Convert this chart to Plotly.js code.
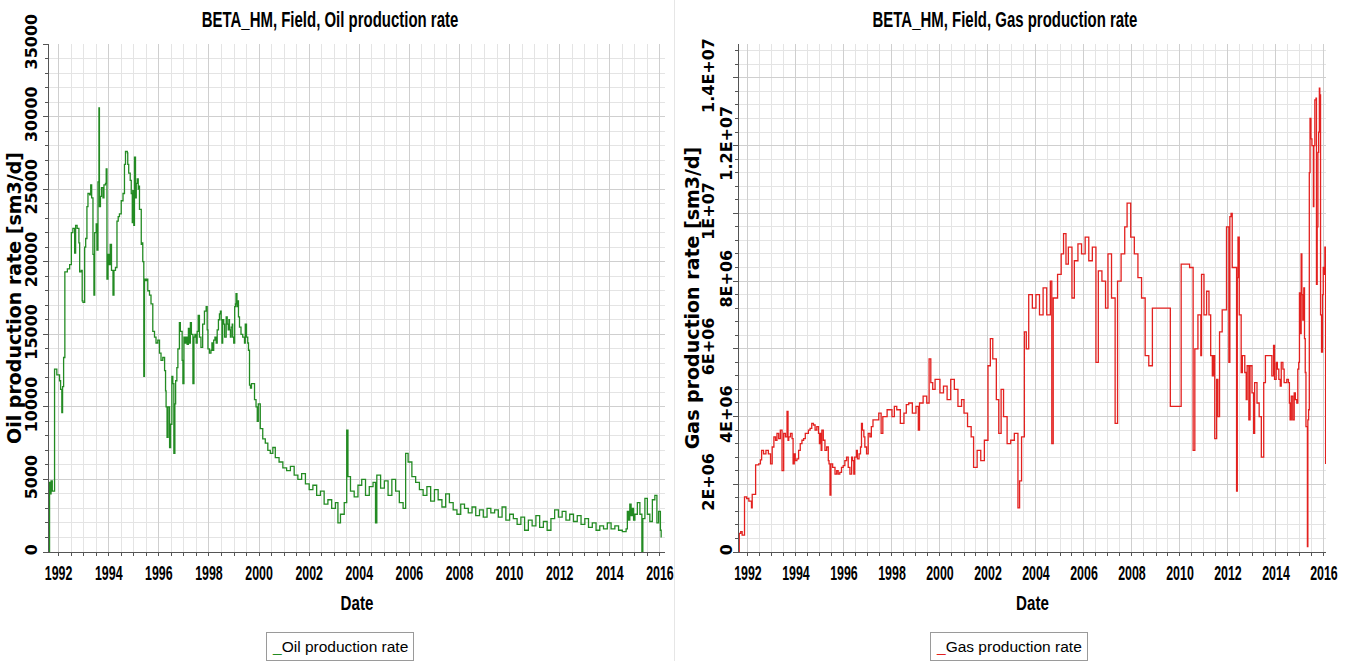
<!DOCTYPE html>
<html>
<head>
<meta charset="utf-8">
<script src="https://cdn.plot.ly/plotly-3.0.1.min.js"></script>
<style>
  html, body { margin: 0; padding: 0; background: #fff; }
  #oil { position: absolute; left: 0; top: 0; width: 690px; height: 661px; z-index: 1; }
  #gas { position: absolute; left: 675px; top: 0; width: 680px; height: 661px; z-index: 2; }
  #divider { position: absolute; left: 674px; top: 0; width: 1px; height: 661px; background: #e6e6e6; z-index: 3; }
</style>
</head>
<body>
<div id="oil"></div>
<div id="divider"></div>
<div id="gas"></div>
<script>
// Field oil rate, sm3/d, stepped; dates as decimal years
const oilYears = [
  1991.62, 1991.64, 1991.68, 1991.70, 1991.75, 1991.84, 1991.93, 1992.04, 1992.08, 1992.13,
  1992.16, 1992.20, 1992.25, 1992.35, 1992.44, 1992.51, 1992.57, 1992.64, 1992.68, 1992.74,
  1992.81, 1992.84, 1992.90, 1992.94, 1992.97, 1993.04, 1993.08, 1993.13, 1993.17, 1993.24,
  1993.28, 1993.32, 1993.37, 1993.41, 1993.44, 1993.50, 1993.53, 1993.57, 1993.61, 1993.63,
  1993.67, 1993.71, 1993.77, 1993.81, 1993.87, 1993.90, 1993.93, 1993.97, 1994.01, 1994.06,
  1994.11, 1994.17, 1994.21, 1994.27, 1994.33, 1994.38, 1994.43, 1994.50, 1994.57, 1994.63,
  1994.67, 1994.74, 1994.76, 1994.80, 1994.86, 1994.90, 1994.94, 1994.96, 1995.00, 1995.03,
  1995.07, 1995.10, 1995.14, 1995.18, 1995.20, 1995.23, 1995.30, 1995.34, 1995.36, 1995.40,
  1995.43, 1995.47, 1995.52, 1995.56, 1995.63, 1995.69, 1995.76, 1995.83, 1995.89, 1995.96,
  1996.03, 1996.09, 1996.16, 1996.23, 1996.27, 1996.29, 1996.33, 1996.37, 1996.43, 1996.47,
  1996.52, 1996.56, 1996.60, 1996.64, 1996.67, 1996.72, 1996.76, 1996.82, 1996.86, 1996.93,
  1996.96, 1997.00, 1997.04, 1997.09, 1997.13, 1997.18, 1997.22, 1997.26, 1997.30, 1997.36,
  1997.40, 1997.44, 1997.49, 1997.53, 1997.57, 1997.62, 1997.68, 1997.75, 1997.82, 1997.89,
  1997.93, 1997.96, 1998.02, 1998.08, 1998.12, 1998.15, 1998.19, 1998.24, 1998.29, 1998.33,
  1998.38, 1998.42, 1998.46, 1998.49, 1998.52, 1998.55, 1998.59, 1998.63, 1998.69, 1998.73,
  1998.77, 1998.80, 1998.82, 1998.86, 1998.89, 1998.93, 1998.95, 1998.99, 1999.03, 1999.06,
  1999.08, 1999.12, 1999.15, 1999.18, 1999.22, 1999.28, 1999.35, 1999.42, 1999.45, 1999.50,
  1999.55, 1999.58, 1999.62, 1999.66, 1999.70, 1999.75, 1999.82, 1999.88, 1999.93, 1999.97,
  2000.05, 2000.15, 2000.25, 2000.35, 2000.45, 2000.55, 2000.65, 2000.80, 2000.95, 2001.10,
  2001.25, 2001.40, 2001.55, 2001.70, 2001.85, 2002.00, 2002.15, 2002.30, 2002.45, 2002.60,
  2002.75, 2002.90, 2003.05, 2003.15, 2003.25, 2003.40, 2003.50, 2003.55, 2003.65, 2003.80,
  2003.95, 2004.10, 2004.25, 2004.40, 2004.55, 2004.65, 2004.70, 2004.85, 2005.00, 2005.15,
  2005.30, 2005.45, 2005.60, 2005.75, 2005.85, 2005.95, 2006.10, 2006.25, 2006.40, 2006.55,
  2006.70, 2006.85, 2007.00, 2007.15, 2007.30, 2007.45, 2007.60, 2007.75, 2007.90, 2008.05,
  2008.20, 2008.35, 2008.50, 2008.65, 2008.80, 2008.95, 2009.10, 2009.25, 2009.40, 2009.55,
  2009.70, 2009.85, 2010.00, 2010.15, 2010.30, 2010.45, 2010.60, 2010.75, 2010.90, 2011.05,
  2011.20, 2011.35, 2011.50, 2011.65, 2011.80, 2011.95, 2012.10, 2012.25, 2012.40, 2012.55,
  2012.70, 2012.85, 2013.00, 2013.15, 2013.30, 2013.45, 2013.60, 2013.75, 2013.90, 2014.05,
  2014.20, 2014.35, 2014.50, 2014.65, 2014.70, 2014.75, 2014.80, 2014.85, 2014.90, 2014.95,
  2015.00, 2015.10, 2015.20, 2015.28, 2015.32, 2015.40, 2015.50, 2015.60, 2015.70, 2015.80,
  2015.88, 2015.95, 2016.02, 2016.05
];
const oilRate = [
  0, 4800, 4000, 4900, 4200, 12600, 12200, 11800, 11200, 9600,
  11400, 13400, 19300, 19500, 19800, 22000, 22300, 20600, 22500, 22300,
  21300, 19300, 19400, 17300, 17200, 21000, 21600, 23800, 24700, 24600,
  25300, 24400, 20500, 17700, 22000, 22600, 20800, 25500, 30600, 23800,
  24500, 25100, 24400, 25300, 25400, 26400, 18800, 20500, 19800, 21200,
  19400, 17700, 19400, 19600, 22800, 23100, 23300, 24200, 24700, 26700,
  27600, 27500, 26700, 26100, 25600, 24700, 22700, 24900, 22500, 27200,
  24400, 25400, 25700, 25000, 25200, 23600, 21200, 21300, 20000, 12100,
  18800, 18700, 18800, 18000, 17700, 17100, 15200, 14800, 14400, 14600,
  13700, 13200, 13400, 12500, 11100, 10000, 7900, 10000, 7200, 8800,
  12100, 11600, 6800, 10200, 11800, 12700, 14000, 15800, 15200, 13200,
  11600, 14800, 14400, 14800, 14300, 15400, 14400, 15800, 15000, 11600,
  14800, 15000, 14400, 15200, 16300, 14800, 14100, 15700, 16600, 16900,
  15300, 14000, 13700, 13900, 14400, 13900, 14600, 14800, 14400, 15300,
  16000, 16400, 16600, 16000, 14400, 16000, 15700, 14800, 16200, 15700,
  15300, 16000, 15300, 14800, 15500, 15700, 14800, 14400, 16900, 17100,
  17800, 16900, 17300, 16200, 15500, 15000, 14800, 14400, 15700, 14800,
  14400, 13900, 11500, 11300, 11600, 11600, 10500, 10000, 9000, 10200,
  8500, 7800, 7500, 7000, 6800, 7200, 6500, 6200, 5800, 5600,
  5900, 5300, 5000, 5400, 4700, 4300, 4600, 3900, 4200, 3300,
  3600, 3000, 3400, 2000, 2600, 3400, 8400, 5200, 4200, 3800,
  4600, 5000, 3900, 4500, 4800, 2000, 5300, 4400, 4900, 3900,
  5000, 4200, 3400, 3000, 6800, 6200, 5200, 4800, 4300, 3900,
  4500, 3500, 4300, 3600, 3100, 4000, 3400, 2900, 2600, 3300,
  3000, 2700, 3100, 2500, 2900, 2400, 3000, 2700, 2900, 2400,
  3100, 2200, 2600, 2300, 1900, 2400, 1500, 2200, 1800, 2500,
  1700, 2100, 1500, 2300, 2900, 2400, 2800, 2200, 2600, 2100,
  2500, 1900, 2300, 1700, 2000, 1500, 1800, 1600, 2000, 1600,
  1800, 1500, 1400, 1600, 2800, 2200, 3300, 2500, 3000, 2200,
  2600, 3400, 2600, 0, 2300, 3700, 2600, 2100, 3600, 3900,
  2000, 2800, 1500, 1000
];

// Field gas rate, million sm3/d, stepped; dates as decimal years
const gasYears = [
  1991.62, 1991.64, 1991.70, 1991.76, 1991.86, 1991.95, 1992.04, 1992.15, 1992.18, 1992.32,
  1992.45, 1992.52, 1992.57, 1992.65, 1992.75, 1992.85, 1992.94, 1993.01, 1993.08, 1993.15,
  1993.21, 1993.28, 1993.35, 1993.42, 1993.49, 1993.56, 1993.63, 1993.67, 1993.70, 1993.77,
  1993.84, 1993.88, 1993.93, 1993.97, 1994.04, 1994.11, 1994.18, 1994.25, 1994.32, 1994.39,
  1994.45, 1994.52, 1994.59, 1994.66, 1994.73, 1994.80, 1994.87, 1994.94, 1994.98, 1995.01,
  1995.05, 1995.08, 1995.14, 1995.21, 1995.28, 1995.35, 1995.38, 1995.42, 1995.46, 1995.53,
  1995.63, 1995.70, 1995.76, 1995.83, 1995.90, 1995.97, 1996.04, 1996.11, 1996.18, 1996.25,
  1996.32, 1996.36, 1996.41, 1996.45, 1996.52, 1996.56, 1996.63, 1996.69, 1996.73, 1996.77,
  1996.83, 1996.87, 1996.94, 1997.01, 1997.08, 1997.14, 1997.21, 1997.30, 1997.45, 1997.55,
  1997.62, 1997.80, 1998.00, 1998.10, 1998.20, 1998.35, 1998.50, 1998.60, 1998.70, 1998.85,
  1999.00, 1999.10, 1999.15, 1999.30, 1999.45, 1999.55, 1999.62, 1999.70, 1999.80, 2000.00,
  2000.15, 2000.30, 2000.45, 2000.60, 2000.75, 2000.90, 2001.00, 2001.15, 2001.30, 2001.40,
  2001.55, 2001.70, 2001.85, 2002.00, 2002.10, 2002.20, 2002.35, 2002.45, 2002.55, 2002.65,
  2002.80, 2002.95, 2003.10, 2003.25, 2003.32, 2003.40, 2003.52, 2003.60, 2003.70, 2003.85,
  2004.00, 2004.15, 2004.30, 2004.45, 2004.60, 2004.66, 2004.72, 2004.90, 2005.05, 2005.15,
  2005.25, 2005.35, 2005.50, 2005.60, 2005.75, 2005.90, 2006.05, 2006.20, 2006.35, 2006.50,
  2006.60, 2006.75, 2006.90, 2007.00, 2007.15, 2007.30, 2007.40, 2007.55, 2007.70, 2007.80,
  2007.95, 2008.10, 2008.25, 2008.40, 2008.55, 2008.70, 2008.85, 2009.30, 2009.60, 2009.90,
  2010.05, 2010.40, 2010.55, 2010.62, 2010.75, 2010.87, 2010.90, 2011.00, 2011.11, 2011.21,
  2011.28, 2011.35, 2011.40, 2011.45, 2011.53, 2011.58, 2011.65, 2011.76, 2011.94, 2012.04,
  2012.08, 2012.13, 2012.18, 2012.32, 2012.36, 2012.39, 2012.42, 2012.47, 2012.55, 2012.60,
  2012.70, 2012.76, 2012.80, 2012.87, 2012.92, 2013.00, 2013.07, 2013.11, 2013.21, 2013.30,
  2013.39, 2013.49, 2013.56, 2013.76, 2013.83, 2013.90, 2013.94, 2014.01, 2014.06, 2014.12,
  2014.18, 2014.22, 2014.29, 2014.34, 2014.45, 2014.52, 2014.56, 2014.59, 2014.64, 2014.70,
  2014.76, 2014.81, 2014.87, 2014.91, 2014.95, 2014.98, 2015.00, 2015.05, 2015.08, 2015.12,
  2015.16, 2015.19, 2015.22, 2015.25, 2015.31, 2015.33, 2015.36, 2015.39, 2015.42, 2015.46,
  2015.50, 2015.56, 2015.58, 2015.62, 2015.67, 2015.69, 2015.72, 2015.75, 2015.78, 2015.81,
  2015.83, 2015.86, 2015.90, 2015.94, 2015.97, 2016.00, 2016.04, 2016.07
];
const gasRateMM = [
  0, 0.55, 0.60, 0.50, 1.63, 1.58, 1.50, 1.30, 1.70, 2.57,
  2.60, 2.72, 3.00, 2.90, 3.00, 2.90, 2.60, 3.10, 3.40, 3.30,
  3.50, 3.35, 3.60, 2.40, 3.50, 3.40, 4.15, 3.30, 3.40, 3.50,
  3.35, 2.60, 2.90, 2.70, 2.75, 3.00, 3.20, 3.30, 3.35, 3.50,
  3.50, 3.60, 3.65, 3.80, 3.75, 3.60, 3.70, 3.50, 3.20, 3.50,
  3.00, 3.60, 3.30, 3.00, 3.10, 2.70, 2.60, 1.68, 2.60, 2.50,
  2.30, 2.40, 2.30, 2.35, 2.50, 2.55, 2.70, 2.80, 2.50, 2.30,
  2.80, 2.70, 2.30, 2.80, 3.00, 2.75, 2.90, 3.10, 3.80, 3.60,
  3.40, 3.10, 2.90, 3.50, 3.40, 3.70, 3.90, 3.90, 4.10, 3.50,
  4.00, 4.20, 4.00, 4.30, 4.20, 3.80, 4.10, 4.35, 4.40, 4.10,
  4.30, 3.60, 4.40, 4.60, 4.40, 5.70, 5.00, 4.80, 5.10, 4.70,
  4.90, 4.50, 5.10, 4.80, 4.30, 4.50, 4.10, 3.70, 3.40, 2.50,
  3.00, 2.70, 3.30, 5.50, 6.30, 5.70, 4.50, 3.50, 4.80, 4.00,
  3.20, 3.30, 3.50, 1.30, 2.10, 3.40, 6.50, 6.00, 7.60, 7.20,
  7.60, 7.00, 7.80, 7.00, 8.00, 3.20, 7.50, 8.20, 8.80, 9.40,
  8.50, 9.00, 7.50, 8.60, 9.10, 8.80, 9.30, 8.60, 9.00, 5.60,
  8.30, 8.00, 7.20, 8.80, 7.50, 3.80, 8.00, 8.80, 9.60, 10.30,
  9.30, 8.80, 8.10, 7.50, 5.80, 5.50, 7.20, 7.20, 4.30, 4.30,
  8.50, 8.40, 3.00, 6.00, 7.00, 5.80, 8.20, 7.00, 7.70, 7.00,
  5.80, 5.20, 5.80, 3.35, 5.10, 4.00, 6.50, 7.15, 9.60, 5.60,
  9.90, 10.00, 8.40, 8.40, 1.80, 8.10, 9.30, 7.00, 5.30, 5.80,
  5.30, 4.50, 5.50, 3.90, 5.50, 4.70, 3.50, 5.00, 4.40, 4.00,
  2.80, 5.00, 5.80, 5.80, 5.20, 6.10, 5.10, 5.60, 5.40, 5.10,
  4.90, 5.60, 5.40, 5.00, 5.10, 5.00, 4.40, 3.90, 4.60, 3.90,
  4.70, 4.50, 4.40, 5.40, 5.60, 7.65, 6.45, 8.80, 7.60, 6.85,
  7.80, 6.30, 5.30, 3.70, 0.16, 3.90, 4.20, 11.20, 12.80, 12.20,
  12.00, 10.20, 12.00, 13.35, 13.40, 7.90, 9.60, 11.80, 12.40, 13.70,
  13.50, 7.00, 5.90, 7.60, 8.40, 8.20, 9.00, 2.60
];

const gasTickVals = [0, 2e6, 4e6, 6e6, 8e6, 1e7, 1.2e7, 1.4e7];
const gasTickText = ['0', '2E+06', '4E+06', '6E+06', '8E+06', '1E+07', '1.2E+07', '1.4E+07'];

const OIL_COLOR = '#238b23';
const GAS_COLOR = '#e3211f';

// decimal year -> ISO date string
function toDate(y) {
  const yr = Math.floor(y);
  const a = Date.UTC(yr, 0, 1), b = Date.UTC(yr + 1, 0, 1);
  return new Date(a + (y - yr) * (b - a)).toISOString().slice(0, 10);
}

const SANS = 'Liberation Sans, Arial, sans-serif';
const WIDE = 'DejaVu Sans, Verdana, sans-serif';
const GRID_MAJOR = '#cfcfcf';
const GRID_MINOR = '#e4e4e4';
const AXIS = '#555555';
const TICK_FONT = { family: WIDE, size: 16, weight: 'bold', color: '#000' };

function dateAxis(range) {
  return {
    type: 'date',
    range: range,
    tick0: '1992-01-01',
    dtick: 'M24',
    tickformat: '%Y',
    ticks: 'outside',
    ticklen: 3,
    tickcolor: AXIS,
    ticklabeloverflow: 'allow',
    showline: true,
    linecolor: AXIS,
    linewidth: 1,
    showgrid: true,
    gridcolor: GRID_MAJOR,
    zeroline: false,
    automargin: false,
    tickfont: { family: SANS, size: 20, weight: 'bold', color: '#000' },
    minor: { tick0: '1992-01-01', dtick: 'M6', showgrid: true, gridcolor: GRID_MINOR, ticks: 'outside', ticklen: 3, tickcolor: AXIS },
    title: { text: 'Date', font: { family: SANS, size: 21, weight: 'bold', color: '#000' }, standoff: 12 },
    fixedrange: true
  };
}

function chartTitle(text, xc) {
  return {
    text: text,
    font: { family: SANS, size: 22, weight: 'bold', color: '#000' },
    xref: 'container', x: xc, xanchor: 'center',
    yref: 'container', y: 1 - 19 / 661, yanchor: 'middle'
  };
}

// boxed key under the plot: short coloured stroke followed by the series name
function keyBox(name, color, xc) {
  return {
    xref: 'paper', yref: 'paper', x: xc, y: -0.187,
    xanchor: 'center', yanchor: 'middle',
    text: '<span style="color:' + color + '">_</span>' + name,
    showarrow: false,
    font: { family: SANS, size: 15.5, color: '#000' },
    bgcolor: '#ffffff', bordercolor: '#9a9a9a', borderwidth: 1, borderpad: 5
  };
}

// condense horizontal labels to the narrow lettering of the chart
function condense(gd, selector, f) {
  gd.querySelectorAll(selector).forEach(t => {
    const w = t.getComputedTextLength();
    if (w > 0) {
      t.setAttribute('textLength', (w * f).toFixed(2));
      t.setAttribute('lengthAdjust', 'spacingAndGlyphs');
    }
  });
}
// nudge the vertical axis title sideways, closer to its tick labels
function nudgeYTitle(gd, dx) {
  const g = gd.querySelector('.g-ytitle');
  if (g) g.setAttribute('transform', 'translate(' + dx + ',0)');
}
function finish(dx) {
  return gd => {
    condense(gd, '.gtitle', 0.68);
    condense(gd, '.xtick text', 0.62);
    condense(gd, '.xtitle', 0.72);
    nudgeYTitle(gd, dx);
  };
}

// Oil chart
Plotly.newPlot('oil', [{
  type: 'scatter', mode: 'lines', name: 'Oil production rate',
  x: oilYears.map(toDate), y: oilRate,
  line: { color: OIL_COLOR, width: 1.3, shape: 'hv' },
  hoverinfo: 'skip', showlegend: false
}], {
  width: 690, height: 661,
  margin: { l: 49, r: 25, t: 44, b: 109 },
  paper_bgcolor: '#fff', plot_bgcolor: '#fff',
  showlegend: false,
  title: chartTitle('BETA_HM, Field, Oil production rate', 330 / 690),
  xaxis: dateAxis(['1991-08-14', '2016-03-15']),
  yaxis: {
    range: [0, 35000],
    tick0: 0, dtick: 5000, tickformat: 'd',
    tickangle: -90,
    ticks: 'outside', ticklen: 5, tickcolor: AXIS,
    showline: true, linecolor: AXIS, linewidth: 1,
    showgrid: true, gridcolor: GRID_MAJOR, zeroline: false,
    automargin: false,
    tickfont: TICK_FONT,
    minor: { dtick: 1000, showgrid: true, gridcolor: GRID_MINOR, ticks: 'outside', ticklen: 3, tickcolor: AXIS },
    title: { text: 'Oil production rate [sm3/d]', font: { family: WIDE, size: 19, weight: 'bold', color: '#000' }, standoff: 0 },
    fixedrange: true
  },
  annotations: [keyBox('Oil production rate', OIL_COLOR, 0.4716)]
}, { staticPlot: true }).then(finish(6));

// Gas chart: tick labels alternate between two columns, so the even and
// odd labels live on two overlaid y axes sharing one range; a third
// overlaid axis carries the major tick marks
const gasRange = [0, 1.5e7];
Plotly.newPlot('gas', [{
  type: 'scatter', mode: 'lines', name: 'Gas production rate',
  x: gasYears.map(toDate), y: gasRateMM.map(v => v * 1e6),
  line: { color: GAS_COLOR, width: 1.3, shape: 'hv' },
  hoverinfo: 'skip', showlegend: false
}, {
  type: 'scatter', mode: 'lines', x: [], y: [], yaxis: 'y2', showlegend: false, hoverinfo: 'skip'
}, {
  type: 'scatter', mode: 'lines', x: [], y: [], yaxis: 'y3', showlegend: false, hoverinfo: 'skip'
}], {
  width: 680, height: 661,
  margin: { l: 60, r: 29, t: 44, b: 109 },
  paper_bgcolor: '#fff', plot_bgcolor: '#fff',
  showlegend: false,
  title: chartTitle('BETA_HM, Field, Gas production rate', 330 / 680),
  xaxis: dateAxis(['1991-08-18', '2016-02-01']),
  yaxis: {
    range: gasRange,
    tickmode: 'array',
    tickvals: gasTickVals.filter((v, i) => i % 2 === 0),
    ticktext: gasTickText.filter((v, i) => i % 2 === 0),
    tickangle: -90,
    ticks: '',
    showline: true, linecolor: AXIS, linewidth: 1,
    showgrid: true, gridcolor: GRID_MAJOR, zeroline: false,
    automargin: true,
    tickfont: TICK_FONT,
    minor: { tick0: 0, dtick: 4e5, showgrid: true, gridcolor: GRID_MINOR, ticks: 'outside', ticklen: 3, tickcolor: AXIS },
    title: { text: 'Gas production rate [sm3/d]', font: { family: WIDE, size: 19, weight: 'bold', color: '#000' }, standoff: 16 },
    fixedrange: true
  },
  yaxis2: {
    overlaying: 'y', side: 'left', anchor: 'x',
    range: gasRange,
    tickmode: 'array',
    tickvals: gasTickVals.filter((v, i) => i % 2 === 1),
    ticktext: gasTickText.filter((v, i) => i % 2 === 1),
    tickangle: -90,
    ticks: '',
    showline: false, showgrid: true, gridcolor: GRID_MAJOR, zeroline: false,
    automargin: false,
    tickfont: TICK_FONT,
    ticklabelstandoff: 21,
    fixedrange: true
  },
  yaxis3: {
    overlaying: 'y', side: 'left', anchor: 'x',
    range: gasRange,
    tickmode: 'array',
    tickvals: gasTickVals,
    showticklabels: false,
    ticks: 'outside', ticklen: 5, tickcolor: AXIS,
    showline: false, showgrid: false, zeroline: false,
    automargin: false,
    fixedrange: true
  },
  annotations: [keyBox('Gas production rate', GAS_COLOR, 0.4602)]
}, { staticPlot: true }).then(finish(5));
</script>
</body>
</html>
